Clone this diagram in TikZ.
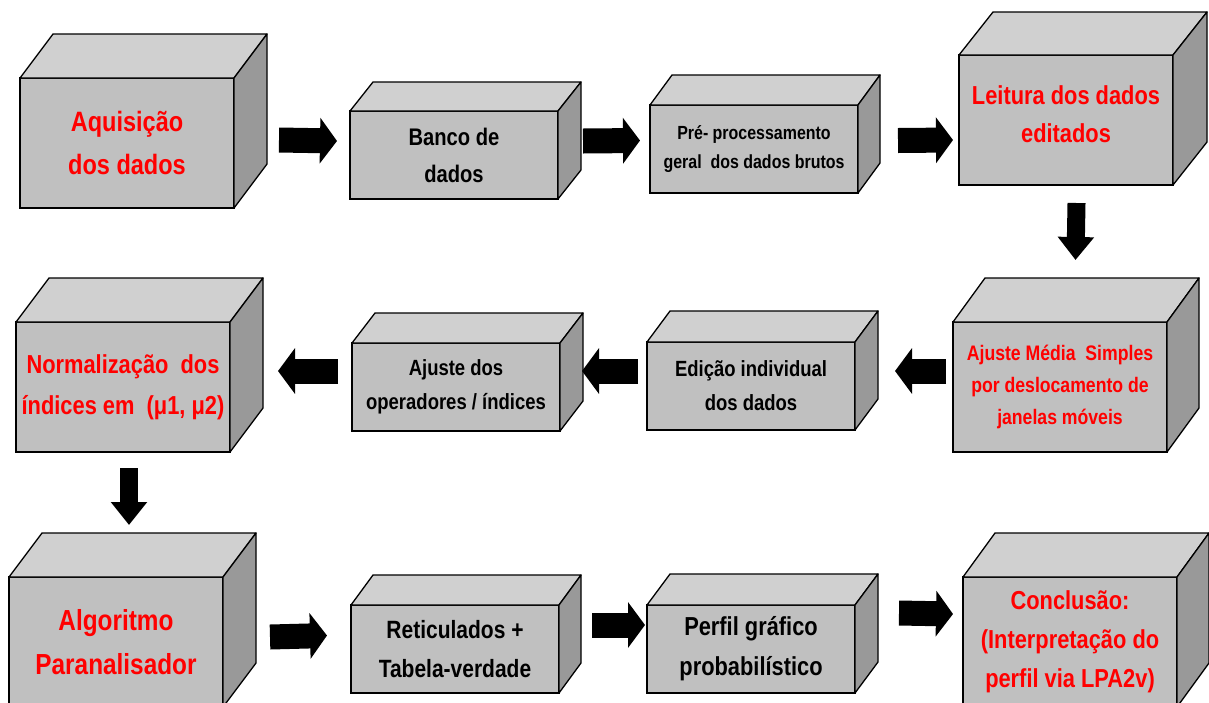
\documentclass[tikz,border=0pt]{standalone}
\usepackage{fontspec}
\usepackage{xcolor}
\usetikzlibrary{arrows.meta}
\newfontfamily\narrowsans{Liberation Sans}[FakeStretch=0.84]
\definecolor{frente}{HTML}{C0C0C0}
\definecolor{topo}{HTML}{D0D0D0}
\definecolor{lado}{HTML}{999999}
\definecolor{vermelho}{HTML}{FF0000}
\newcommand{\tam}[2]{\fontsize{#1}{#2}\selectfont}
% top and side faces of a box, #1 = front node, (#2,#3) = depth
\newcommand{\cubo}[3]{%
  \draw[line width=1.3pt, line join=round, fill=topo]
    (#1.north west) -- ++(#2,#3) -- ([shift={(#2,#3)}]#1.north east) -- (#1.north east) -- cycle;
  \draw[line width=1.3pt, line join=round, fill=lado]
    (#1.north east) -- ++(#2,#3) -- ([shift={(#2,#3)}]#1.south east) -- (#1.south east) -- cycle;
}

\begin{document}
\begin{tikzpicture}[
  x=1pt, y=-1pt,
  bloco/.style={draw, line width=1.3pt, fill=frente, outer sep=0pt, inner sep=2pt,
                anchor=north west, align=center},
  grande/.style={bloco, minimum width=214pt, minimum height=130pt},
  pequeno/.style={bloco, minimum width=208pt, minimum height=88pt},
  destaque/.style={text=vermelho},
  seta/.style={line width=25pt, -{Triangle[length=17pt, width=45pt]}},
  setabaixo/.style={line width=18pt, -{Triangle[length=23pt, width=35pt]}},
]
\useasboundingbox (0,0) rectangle (1209,702);

% First row
\node[grande, destaque, font=\narrowsans\bfseries\tam{28}{43}] (aq) at (20,78) {Aquisição\\dos dados};
\cubo{aq}{33}{-44}
\node[pequeno, font=\narrowsans\bfseries\tam{24}{37}] (bd) at (350,111) {Banco de\\dados};
\cubo{bd}{23}{-29}
\node[pequeno, font=\narrowsans\bfseries\tam{19}{29}] (pp) at (650,105) {Pré- processamento\\geral\ \ dos dados brutos};
\cubo{pp}{22}{-30}
\node[grande, destaque, font=\narrowsans\bfseries\tam{26}{38}] (le) at (959,55) {Leitura dos dados\\editados\\[-26pt]};
\cubo{le}{34}{-43}

% Second row
\node[grande, destaque, font=\narrowsans\bfseries\tam{21}{32}] (am) at (953,322) {Ajuste Média\ \ Simples\\por deslocamento de\\janelas móveis};
\cubo{am}{32}{-44}
\node[pequeno, font=\narrowsans\bfseries\tam{22}{34}] (ed) at (647,342) {Edição individual\\dos dados};
\cubo{ed}{23}{-31}
\node[pequeno, font=\narrowsans\bfseries\tam{22}{34}] (ao) at (352,343) {Ajuste dos\\operadores / índices};
\cubo{ao}{23}{-30}
\node[grande, destaque, font=\narrowsans\bfseries\tam{26}{41}] (no) at (16,322) {Normalização\ \ dos\\índices em\ \ (μ1, μ2)};
\cubo{no}{33}{-44}

% Third row
\node[grande, destaque, font=\narrowsans\bfseries\tam{29}{44}] (al) at (9,577) {Algoritmo\\Paranalisador};
\cubo{al}{33}{-44}
\node[pequeno, font=\narrowsans\bfseries\tam{25}{39}] (re) at (351,605) {Reticulados +\\Tabela-verdade};
\cubo{re}{22}{-30}
\node[pequeno, font=\narrowsans\bfseries\tam{26}{40}] (pe) at (647,605) {Perfil gráfico\\probabilístico};
\cubo{pe}{23}{-31}
\node[grande, destaque, font=\narrowsans\bfseries\tam{26}{39}] (co) at (963,577) {Conclusão:\\(Interpretação do\\perfil via LPA2v)};
\cubo{co}{32}{-44}

% --- arrows ---
\draw[seta] ([shift={(45,-3)}]aq.east) -- ([shift={(-13,-14)}]bd.west);
\draw[seta] ([shift={(25,-14)}]bd.east) -- ([shift={(-10,-8.5)}]pp.west);
\draw[seta] ([shift={(40,-8.5)}]pp.east) -- ([shift={(-6,20)}]le.west);
\draw[setabaixo] ([shift={(10.5,18)}]le.south) -- ([shift={(15.5,-62)}]am.north);
\draw[seta] ([shift={(-7,-16)}]am.west) -- ([shift={(40,-15)}]ed.east);
\draw[seta] ([shift={(-9,-15)}]ed.west) -- ([shift={(22,-16)}]ao.east);
\draw[seta] ([shift={(-14,-16)}]ao.west) -- ([shift={(48,-16)}]no.east);
\draw[setabaixo] ([shift={(6,16)}]no.south) -- ([shift={(13,-52)}]al.north);
\draw[seta] ([shift={(47,-5)}]al.east) -- ([shift={(-24,-13.5)}]re.west);
\draw[seta] ([shift={(33,-24)}]re.east) -- ([shift={(-2,-24)}]pe.west);
\draw[seta] ([shift={(44,-36)}]pe.east) -- ([shift={(-10,-28)}]co.west);

\end{tikzpicture}
\end{document}
